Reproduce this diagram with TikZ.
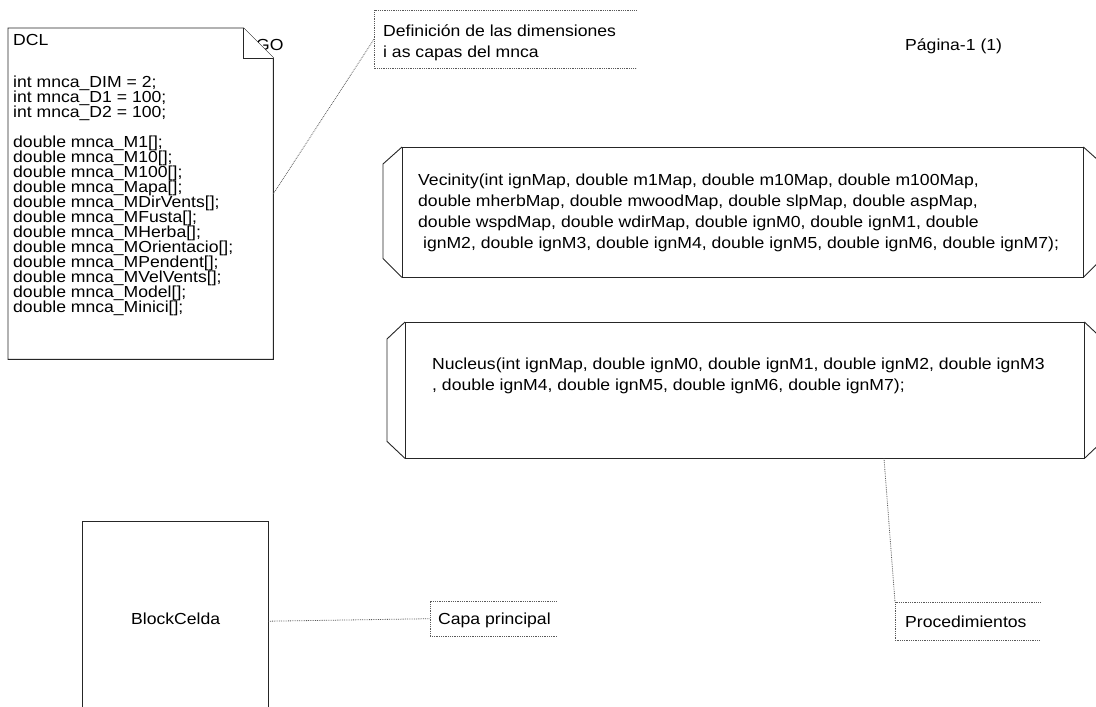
\documentclass[tikz,border=0pt]{standalone}
\usepackage{fontspec}
\setmainfont{Liberation Sans}[FakeStretch=1.1]
\usetikzlibrary{calc}
% let lines sit closer than their glyph boxes allow
\newcommand\tightlines{\lineskiplimit=-20pt\relax\lineskip=0pt\relax}

\begin{document}
\begin{tikzpicture}[x=1pt,y=-1pt]
\tikzset{
  outline/.style={draw=black!85, line width=0.9pt},
  leader/.style={draw=black!65, densely dotted, line width=0.8pt},
  frame/.style={inner sep=0pt, anchor=north west},
  txt/.style={font={\fontsize{16}{15}\selectfont\tightlines}, inner sep=0pt, align=left, text=black},
  loosetxt/.style={font={\fontsize{16}{21}\selectfont\tightlines}, inner sep=0pt, align=left, text=black},
}
\useasboundingbox (0,0) rectangle (1096,707);
\clip (0,0) rectangle (1096,707);

% ---------- logo text peeking out behind the folded corner
\node[txt, anchor=base west] (logo) at (256,50) {GO};

% ---------- declarations sheet with folded corner
\node[frame, minimum width=265pt, minimum height=331pt] (dcl) at (8,28) {};
\draw[outline, fill=white]
  (dcl.north west) -- ($(dcl.north east)+(-30,0)$) -- ($(dcl.north east)+(0,30)$)
  -- (dcl.south east) -- (dcl.south west) -- cycle;
\draw[outline, fill=white]
  ($(dcl.north east)+(-30,0)$) -- ($(dcl.north east)+(-30,30)$) -- ($(dcl.north east)+(0,30)$);
% multi-line nodes are placed by the baseline of their last line
\node[txt, anchor=base west] (dcltext) at (13,312) {DCL\\[27pt]
int mnca\_DIM = 2;\\
int mnca\_D1 = 100;\\
int mnca\_D2 = 100;\\[15pt]
double mnca\_M1[];\\
double mnca\_M10[];\\
double mnca\_M100[];\\
double mnca\_Mapa[];\\
double mnca\_MDirVents[];\\
double mnca\_MFusta[];\\
double mnca\_MHerba[];\\
double mnca\_MOrientacio[];\\
double mnca\_MPendent[];\\
double mnca\_MVelVents[];\\
double mnca\_Model[];\\
double mnca\_Minici[];};

% ---------- page label
\node[txt, anchor=base west] (page) at (905,50) {Página-1 (1)};

% ---------- comment: dimensions and layers
\node[frame, minimum width=262pt, minimum height=58pt] (n1) at (374,10) {};
\draw[leader] (n1.north east) -- (n1.north west) -- (n1.south west) -- (n1.south east);
\node[loosetxt, anchor=base west] (n1text) at (383,57) {Definición de las dimensiones\\i as capas del mnca};
\draw[leader] (dcl.east) -- (n1.west);

% ---------- procedure Vecinity
\node[frame, minimum width=681pt, minimum height=130pt] (vec) at (402,147) {};
\draw[outline] (vec.north west) rectangle (vec.south east);
\draw[outline] (vec.north west) -- ++(-19,17) -- ($(vec.south west)+(-19,-19)$) -- (vec.south west);
\draw[outline] (vec.north east) -- ++(19,17) -- ($(vec.south east)+(19,-19)$) -- (vec.south east);
\node[loosetxt, anchor=base west] (vectext) at (418,248) {Vecinity(int ignMap, double m1Map, double m10Map, double m100Map,\\
double mherbMap, double mwoodMap, double slpMap, double aspMap,\\
double wspdMap, double wdirMap, double ignM0, double ignM1, double\\
\ ignM2, double ignM3, double ignM4, double ignM5, double ignM6, double ignM7);};

% ---------- procedure Nucleus
\node[frame, minimum width=679pt, minimum height=136pt] (nuc) at (405,322) {};
\draw[outline] (nuc.north west) rectangle (nuc.south east);
\draw[outline] (nuc.north west) -- ++(-18,17) -- ($(nuc.south west)+(-18,-17)$) -- (nuc.south west);
\draw[outline] (nuc.north east) -- ++(18,17) -- ($(nuc.south east)+(18,-17)$) -- (nuc.south east);
\node[loosetxt, anchor=base west] (nuctext) at (432,390) {Nucleus(int ignMap, double ignM0, double ignM1, double ignM2, double ignM3\\
, double ignM4, double ignM5, double ignM6, double ignM7);};

% ---------- comment: procedures
\node[frame, minimum width=145pt, minimum height=38pt] (n3) at (895,602) {};
\draw[leader] (n3.north east) -- (n3.north west) -- (n3.south west) -- (n3.south east);
\node[txt, anchor=base west] (n3text) at (905,627) {Procedimientos};
\draw[leader] ($(nuc.south west)+(479,0)$) -- (n3.north west);

% ---------- main block
\node[frame, minimum width=186pt, minimum height=200pt] (block) at (82,521) {};
\draw[outline] (block.south west) -- (block.north west) -- (block.north east) -- (block.south east);
\node[txt, anchor=base west] (blocktext) at (131,624) {BlockCelda};

% ---------- comment: main layer
\node[frame, minimum width=126pt, minimum height=35pt] (n2) at (430,601) {};
\draw[leader] (n2.north east) -- (n2.north west) -- (n2.south west) -- (n2.south east);
\node[txt, anchor=base west] (n2text) at (438,624) {Capa principal};
\draw[leader] (block.east) -- (n2.west);
\end{tikzpicture}
\end{document}
